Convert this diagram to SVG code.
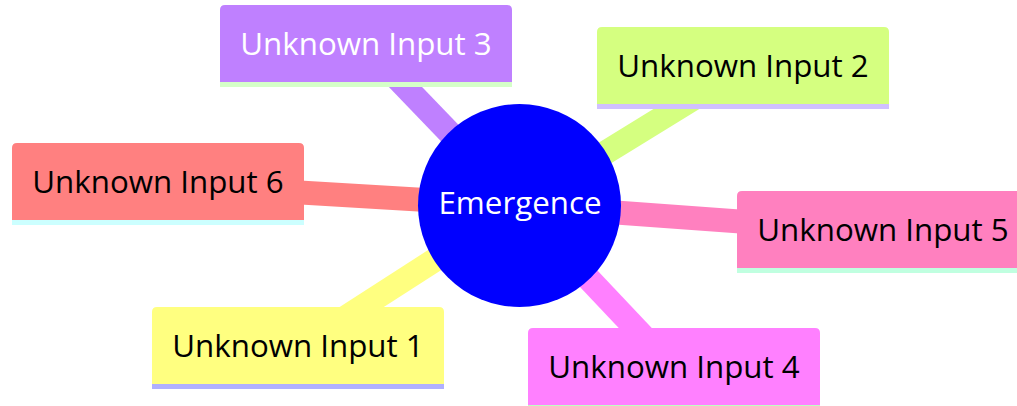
<svg xmlns="http://www.w3.org/2000/svg" width="1017" height="406" viewBox="0 0 1017 406">
<style>
.edge{stroke-width:24;stroke-linecap:butt;fill:none}
.lbl{font-family:"Open Sans","Noto Sans",sans-serif;font-size:31.3px;text-anchor:middle;fill:#000}
</style>
<defs>
<path id="box" d="M0,77 V5 Q0,0 5,0 H287 Q292,0 292,5 V77 Z"/>
</defs>
<rect width="1017" height="406" fill="#fff"/>
<g id="connectors">
<line class="edge" x1="519.5" y1="205.5" x2="158" y2="184" stroke="#ff8080"/>
<line class="edge" x1="519.5" y1="205.5" x2="366" y2="46" stroke="#bf80ff"/>
<line class="edge" x1="519.5" y1="205.5" x2="743" y2="68" stroke="#d5ff80"/>
<line class="edge" x1="519.5" y1="205.5" x2="883" y2="232" stroke="#ff80bf"/>
<line class="edge" x1="519.5" y1="205.5" x2="298" y2="348" stroke="#ffff80"/>
<line class="edge" x1="519.5" y1="205.5" x2="674" y2="369" stroke="#ff80ff"/>
</g>
<g id="n6" transform="translate(12,143)">
<use href="#box" fill="#ff8080"/><rect y="77" width="292" height="5" fill="#ccffff"/>
<text class="lbl" x="146" y="49.5">Unknown Input 6</text>
</g>
<g id="n3" transform="translate(220,5)">
<use href="#box" fill="#bf80ff"/><rect y="77" width="292" height="5" fill="#d5ffc8"/>
<text class="lbl" x="146" y="49.5" style="fill:#fff">Unknown Input 3</text>
</g>
<g id="n2" transform="translate(597,27)">
<use href="#box" fill="#d5ff80"/><rect y="77" width="292" height="5" fill="#d0c0ff"/>
<text class="lbl" x="146" y="49.5">Unknown Input 2</text>
</g>
<g id="n5" transform="translate(737,191)">
<use href="#box" fill="#ff80bf"/><rect y="77" width="292" height="5" fill="#c0ffe0"/>
<text class="lbl" x="146" y="49.5">Unknown Input 5</text>
</g>
<g id="n1" transform="translate(152,307)">
<use href="#box" fill="#ffff80"/><rect y="77" width="292" height="5" fill="#b0b0ff"/>
<text class="lbl" x="146" y="49.5">Unknown Input 1</text>
</g>
<g id="n4" transform="translate(528,328)">
<use href="#box" fill="#ff80ff"/><rect y="77" width="292" height="5" fill="#c0ffc0"/>
<text class="lbl" x="146" y="49.5">Unknown Input 4</text>
</g>
<g id="root">
<circle cx="519.5" cy="205.5" r="101.5" fill="#0000ff"/>
<text class="lbl" x="520" y="213.5" style="fill:#fff">Emergence</text>
</g>
</svg>
